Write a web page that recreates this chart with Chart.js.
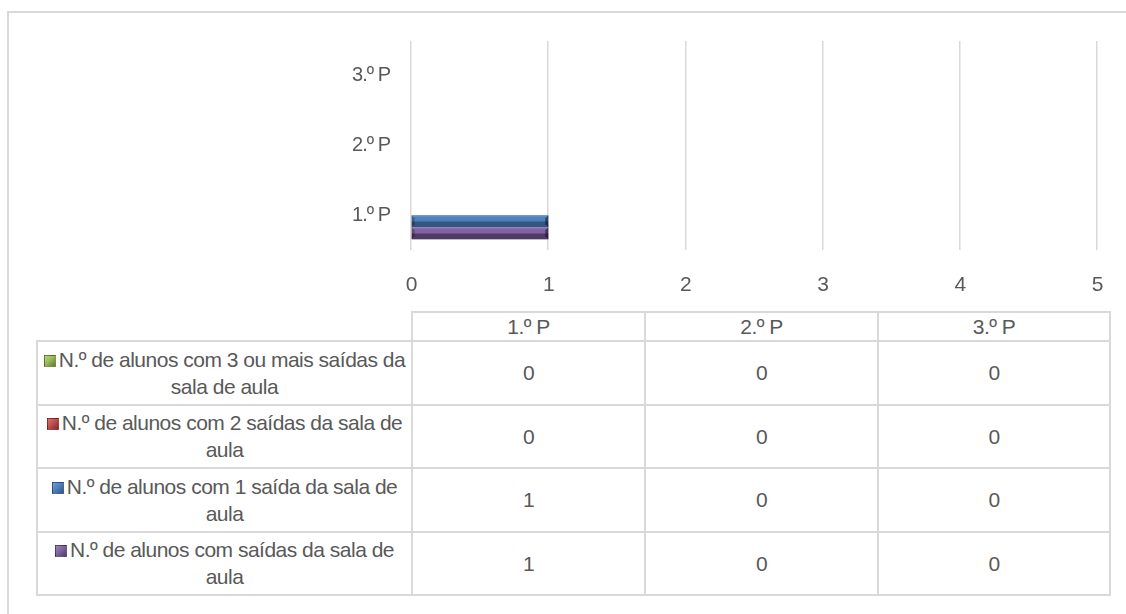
<!DOCTYPE html>
<html>
<head>
<meta charset="utf-8">
<script src="https://cdn.jsdelivr.net/npm/chart.js@4.4.1/dist/chart.umd.min.js"></script>
<style>
  body { margin: 0; width: 1126px; height: 614px; overflow: hidden; background: #fff;
         font-family: "Liberation Sans Narrow", "Arial Narrow", "Liberation Sans", sans-serif; color: #595959; }
  #frame { position: absolute; left: 7px; top: 11px; width: 1300px; height: 800px;
           border-left: 2px solid #d9d9d9; border-top: 2px solid #d9d9d9; }
  #chartBox { position: absolute; left: 0; top: 0; width: 1126px; height: 300px; }
  #dataTable { position: absolute; left: 36px; top: 311px; border-collapse: collapse; table-layout: fixed; }
  #dataTable td { border: 2px solid #d9d9d9; text-align: center; font-size: 21px; line-height: 27px;
                  letter-spacing: -0.5px; padding: 0; color: #595959; }
  #dataTable td.blank { border-top: none; border-left: none; }
  .mk { display: inline-block; width: 12px; height: 12px; margin-right: 3px; vertical-align: 0px;
        box-sizing: border-box; border: 1px solid rgba(0,0,0,0.25); }
</style>
</head>
<body>
<div id="frame"></div>
<div id="chartBox"><canvas id="barChart"></canvas></div>
<table id="dataTable"></table>

<script>
// categories and series
const categories = ['1.º P', '2.º P', '3.º P'];
const xTicks = [0, 1, 2, 3, 4, 5];

const seriesNames = [
  ['N.º de alunos com 3 ou mais saídas da', 'sala de aula'],
  ['N.º de alunos com 2 saídas da sala de', 'aula'],
  ['N.º de alunos com 1 saída da sala de', 'aula'],
  ['N.º de alunos com saídas da sala de', 'aula']
];
const tresOuMaisSaidas = [0, 0, 0];
const duasSaidas = [0, 0, 0];
const umaSaida = [1, 0, 0];
const comSaidas = [1, 0, 0];

// styles (Office palette)
const baseColors = ['#9bbb59', '#c0504d', '#4f81bd', '#8064a2'];
const lightColors = ['#b4d27a', '#d9716e', '#6f9bd6', '#9c82c2'];
const darkColors = ['#5f7a30', '#7e2b29', '#34557e', '#4e3c66'];

const seriesValues = [tresOuMaisSaidas, duasSaidas, umaSaida, comSaidas];

// tighter glyph spacing, the original uses a narrow face
const narrowText = {
  id: 'narrowText',
  beforeDraw(chart) { chart.ctx.letterSpacing = '-1px'; }
};

// draw bevel-look bars on top of the library bars
const bevelPlugin = {
  id: 'bevel',
  afterDatasetsDraw(chart) {
    const ctx = chart.ctx;
    chart.data.datasets.forEach((ds, i) => {
      const meta = chart.getDatasetMeta(i);
      meta.data.forEach(bar => {
        const left = Math.min(bar.base, bar.x);
        const w = Math.abs(bar.x - bar.base);
        if (w < 1) return;
        const top = bar.y - bar.height / 2;
        const h = bar.height;
        const g = ctx.createLinearGradient(0, top, 0, top + h);
        g.addColorStop(0, lightColors[i]);
        g.addColorStop(0.2, baseColors[i]);
        g.addColorStop(0.45, baseColors[i]);
        g.addColorStop(0.6, darkColors[i]);
        g.addColorStop(1, darkColors[i]);
        ctx.save();
        ctx.fillStyle = g;
        ctx.fillRect(left, top, w, h);
        // end caps
        ctx.fillStyle = 'rgba(0,0,0,0.45)';
        ctx.beginPath();
        ctx.moveTo(left + w, top);
        ctx.lineTo(left + w, top + h);
        ctx.lineTo(left + w - 3, top + h - 3);
        ctx.lineTo(left + w - 3, top + 3);
        ctx.closePath();
        ctx.fill();
        ctx.fillStyle = 'rgba(0,0,0,0.25)';
        ctx.beginPath();
        ctx.moveTo(left, top);
        ctx.lineTo(left + 3, top + 3);
        ctx.lineTo(left + 3, top + h - 3);
        ctx.lineTo(left, top + h);
        ctx.closePath();
        ctx.fill();
        ctx.restore();
      });
    });
  }
};

function initChart() {
  // 1.º P sits at the bottom, so feed categories top-down
  const labels = categories.slice().reverse();
  const datasets = seriesValues.map((vals, i) => ({
    label: seriesNames[i].join(' '),
    data: vals.slice().reverse(),
    backgroundColor: baseColors[i],
    borderWidth: 0,
    barPercentage: 1,
    categoryPercentage: 0.69
  }));

  new Chart(document.getElementById('barChart'), {
    type: 'bar',
    data: { labels: labels, datasets: datasets },
    options: {
      indexAxis: 'y',
      responsive: true,
      maintainAspectRatio: false,
      animation: false,
      layout: { padding: { top: 41, right: 24, left: 0, bottom: 0 } },
      scales: {
        x: {
          min: xTicks[0],
          max: xTicks[xTicks.length - 1],
          afterBuildTicks: s => { s.ticks = xTicks.map(v => ({ value: v })); },
          afterFit: s => { s.height = 50; },
          grid: { color: '#d9d9d9', lineWidth: 1.5, drawTicks: false },
          border: { display: false },
          ticks: { color: '#595959', padding: 23,
                   font: { family: '"Liberation Sans Narrow", "Arial Narrow", sans-serif', size: 21 } }
        },
        y: {
          afterFit: s => { s.width = 411; },
          grid: { display: false, drawTicks: false },
          border: { display: false },
          ticks: { color: '#595959', padding: 21,
                   font: { family: '"Liberation Sans Narrow", "Arial Narrow", sans-serif', size: 20 } }
        }
      },
      plugins: {
        legend: { display: false },
        tooltip: { enabled: false }
      }
    },
    plugins: [narrowText, bevelPlugin]
  });
}

function buildTable() {
  const table = document.getElementById('dataTable');
  const colW = [375, 233, 233, 232];
  const cg = document.createElement('colgroup');
  colW.forEach(w => {
    const c = document.createElement('col');
    c.style.width = w + 'px';
    cg.appendChild(c);
  });
  table.appendChild(cg);

  const head = document.createElement('tr');
  head.style.height = '28px';
  const blank = document.createElement('td');
  blank.className = 'blank';
  head.appendChild(blank);
  categories.forEach(c => {
    const td = document.createElement('td');
    td.textContent = c;
    head.appendChild(td);
  });
  table.appendChild(head);

  seriesNames.forEach((name, i) => {
    const tr = document.createElement('tr');
    tr.style.height = '63.5px';
    const lab = document.createElement('td');
    const mk = document.createElement('span');
    mk.className = 'mk';
    mk.style.background = `linear-gradient(135deg, ${lightColors[i]}, ${baseColors[i]} 45%, ${darkColors[i]})`;
    lab.appendChild(mk);
    lab.appendChild(document.createTextNode(name[0]));
    lab.appendChild(document.createElement('br'));
    lab.appendChild(document.createTextNode(name[1]));
    tr.appendChild(lab);
    seriesValues[i].forEach(v => {
      const td = document.createElement('td');
      td.textContent = v;
      tr.appendChild(td);
    });
    table.appendChild(tr);
  });
}

document.addEventListener('DOMContentLoaded', () => {
  buildTable();
  initChart();
});
</script>
</body>
</html>
